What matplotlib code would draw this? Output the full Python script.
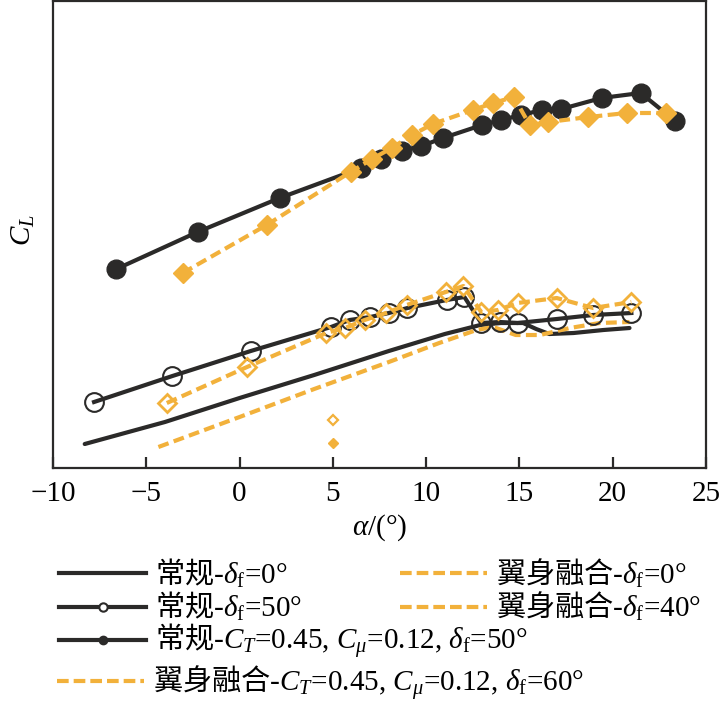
import matplotlib
matplotlib.use("Agg")
import matplotlib.pyplot as plt
from matplotlib.lines import Line2D

plt.rcParams['font.family'] = ['Liberation Serif', 'Noto Sans CJK SC']
plt.rcParams['mathtext.fontset'] = 'custom'
plt.rcParams['mathtext.rm'] = 'Noto Sans CJK SC'
plt.rcParams['mathtext.it'] = 'Liberation Serif:italic'
plt.rcParams['mathtext.sf'] = 'Liberation Serif'
plt.rcParams['axes.unicode_minus'] = True

BLACK = '#2b2a29'
ORANGE = '#f2b13b'

# 常规 δf=0° (line only)
base0_x = [-8.3, -4.0, 0.0, 4.0, 8.0, 11.0, 12.9, 14.0, 15.2, 15.9, 16.6, 17.9, 19.5, 20.9]
base0_y = [0.24, 0.46, 0.70, 0.93, 1.17, 1.34, 1.43, 1.45, 1.45, 1.39, 1.34, 1.35, 1.38, 1.40]

# 常规 δf=50° (open circles)
base50_x = [-7.8, -3.6, 0.6, 4.9, 5.9, 7.0, 8.0, 9.0, 11.1, 12.05, 12.95, 13.95, 14.9, 17.0, 18.95, 21.0]
base50_y = [0.66, 0.92, 1.17, 1.41, 1.48, 1.51, 1.55, 1.60, 1.68, 1.71, 1.45, 1.46, 1.45, 1.49, 1.53, 1.55]

# 常规 CT=0.45, Cmu=0.12, δf=50° (filled circles)
baseCT_x = [-6.6, -2.25, 2.15, 6.5, 7.6, 8.7, 9.75, 10.9, 13.0, 14.0, 15.1, 16.2, 17.25, 19.4, 21.5, 23.35]
baseCT_y = [1.99, 2.36, 2.70, 3.00, 3.09, 3.17, 3.22, 3.30, 3.43, 3.48, 3.53, 3.58, 3.59, 3.70, 3.75, 3.47]

# 翼身融合 δf=0° (dashed line only)
bwb0_x = [-4.35, 0.0, 4.0, 8.0, 10.7, 12.7, 13.6, 14.8, 16.1, 17.7, 19.3, 20.9]
bwb0_y = [0.21, 0.51, 0.79, 1.06, 1.25, 1.38, 1.41, 1.33, 1.33, 1.40, 1.45, 1.46]

# 翼身融合 δf=40° (open diamonds)
bwb40_x = [-3.9, 0.4, 4.65, 5.65, 6.7, 7.85, 8.95, 11.05, 12.0, 12.95, 13.85, 14.9, 17.0, 18.95, 21.0]
bwb40_y = [0.65, 1.01, 1.35, 1.40, 1.48, 1.55, 1.63, 1.76, 1.82, 1.56, 1.58, 1.65, 1.70, 1.60, 1.66]

# 翼身融合 CT=0.45, Cmu=0.12, δf=60° (filled diamonds)
bwbCT_x = [-3.05, 1.45, 5.95, 7.1, 8.15, 9.25, 10.35, 12.5, 13.6, 14.7, 15.55, 16.55, 18.7, 20.75, 22.85]
bwbCT_y = [1.95, 2.43, 2.96, 3.09, 3.20, 3.33, 3.44, 3.58, 3.65, 3.71, 3.43, 3.46, 3.51, 3.55, 3.55]

# two small stray markers at alpha=5
stray_x = [5.0]
stray_open_y = [0.48]
stray_fill_y = [0.253]

fig = plt.figure(figsize=(7.27, 7.13), dpi=100)
ax = fig.add_axes([0.0729, 0.3436, 0.8982, 0.655])

dash = (2.6, 1.3)
lw = 3.0

ax.plot(base0_x, base0_y, color=BLACK, lw=lw, solid_capstyle='round')
ax.plot(bwb0_x, bwb0_y, color=ORANGE, lw=lw, dashes=dash)
ax.plot(base50_x, base50_y, color=BLACK, lw=lw, marker='o', ms=13.5,
        mfc='none', mec=BLACK, mew=1.5)
ax.plot(bwb40_x, bwb40_y, color=ORANGE, lw=lw, dashes=dash, marker='D', ms=9,
        mfc='none', mec=ORANGE, mew=2.0)
ax.plot(baseCT_x, baseCT_y, color=BLACK, lw=lw, marker='o', ms=13.5,
        mfc=BLACK, mec=BLACK)
ax.plot(bwbCT_x, bwbCT_y, color=ORANGE, lw=lw, dashes=dash, marker='D', ms=10.5,
        mfc=ORANGE, mec=ORANGE)
ax.plot(stray_x, stray_open_y, ls='none', marker='D', ms=5, mfc='none',
        mec=ORANGE, mew=1.6)
ax.plot(stray_x, stray_fill_y, ls='none', marker='D', ms=5.5, mfc=ORANGE,
        mec=ORANGE)

ax.set_xlim(-10, 25)
ax.set_ylim(0, 4.67)
ax.set_xticks([-10, -5, 0, 5, 10, 15, 20, 25])
ax.set_yticks([])
for s in ax.spines.values():
    s.set_linewidth(1.6)
    s.set_color(BLACK)
ax.tick_params(axis='x', direction='in', length=8, width=1.6, color=BLACK,
               labelsize=21, pad=9)
ax.set_xlabel(r'$\alpha$/(°)', fontsize=21, labelpad=4)
ax.set_ylabel(r'$C_L$', fontsize=21)
ax.yaxis.set_label_coords(-0.024, 0.51)

h_base0 = Line2D([], [], color=BLACK, lw=lw)
h_base50 = Line2D([], [], color=BLACK, lw=lw, marker='o', ms=6, mfc='white', mec=BLACK, mew=1.5)
h_baseCT = Line2D([], [], color=BLACK, lw=lw, marker='o', ms=6, mfc=BLACK, mec=BLACK)
h_bwb0 = Line2D([], [], color=ORANGE, lw=lw, dashes=(2.8, 1.2))
h_bwb40 = Line2D([], [], color=ORANGE, lw=lw, dashes=(2.8, 1.2))
h_bwbCT = Line2D([], [], color=ORANGE, lw=lw, dashes=(2.8, 1.2))

lab_base0 = r'$\mathrm{常规}$-$\delta_\mathsf{f}$=0°'
lab_base50 = r'$\mathrm{常规}$-$\delta_\mathsf{f}$=50°'
lab_baseCT = r'$\mathrm{常规}$-$C_T$=0.45, $C_\mu$=0.12, $\delta_\mathsf{f}$=50°'
lab_bwb0 = r'$\mathrm{翼身融合}$-$\delta_\mathsf{f}$=0°'
lab_bwb40 = r'$\mathrm{翼身融合}$-$\delta_\mathsf{f}$=40°'
lab_bwbCT = r'$\mathrm{翼身融合}$-$C_T$=0.45, $C_\mu$=0.12, $\delta_\mathsf{f}$=60°'

rows = [
    (h_base0, lab_base0, 0.081, 0.196),
    (h_base50, lab_base50, 0.081, 0.149),
    (h_baseCT, lab_baseCT, 0.081, 0.100),
    (h_bwb0, lab_bwb0, 0.550, 0.196),
    (h_bwb40, lab_bwb40, 0.550, 0.149),
    (h_bwbCT, lab_bwbCT, 0.078, 0.042),
]
for h, lab, x, y in rows:
    fig.legend([h], [lab], loc='center left', bbox_to_anchor=(x, y),
               frameon=False, borderpad=0, borderaxespad=0,
               handlelength=3.0, handletextpad=0.3, fontsize=21)

fig.savefig('out.png', dpi=100)
